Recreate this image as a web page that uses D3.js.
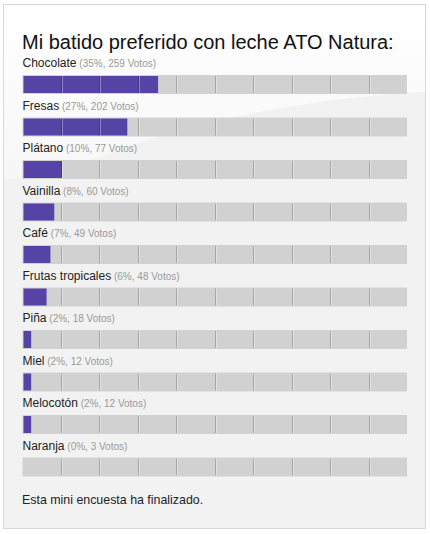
<!DOCTYPE html>
<html>
<head>
<meta charset="utf-8">
<script src="https://cdn.jsdelivr.net/npm/d3@7"></script>
<style>
  body { margin: 0; background: #fff; }
  text { font-family: Arial, "Liberation Sans", sans-serif; }
</style>
</head>
<body>
<div id="poll"></div>
<script>
// datos de la encuesta
const opciones = ['Chocolate', 'Fresas', 'Plátano', 'Vainilla', 'Café', 'Frutas tropicales', 'Piña', 'Miel', 'Melocotón', 'Naranja'];
const porcentajes = [35, 27, 10, 8, 7, 6, 2, 2, 2, 0];
const votos = [259, 202, 77, 60, 49, 48, 18, 12, 12, 3];
const titulo = 'Mi batido preferido con leche ATO Natura:';
const pie = 'Esta mini encuesta ha finalizado.';

const width = 430;
const height = 534;

const svg = d3.select('#poll')
  .append('svg')
  .attr('width', width)
  .attr('height', height);

const defs = svg.append('defs');
const grad = defs.append('linearGradient')
  .attr('id', 'brillo')
  .attr('x1', 0).attr('y1', 0).attr('x2', 0).attr('y2', 1);
grad.append('stop').attr('offset', '0%').attr('stop-color', '#ffffff');
grad.append('stop').attr('offset', '100%').attr('stop-color', '#f7f7f7');

// caja
svg.append('rect')
  .attr('x', 3.5).attr('y', 4.5)
  .attr('width', 422).attr('height', 524)
  .attr('fill', '#f2f2f2')
  .attr('stroke', '#d8d8d8');

// brillo de fondo
svg.append('path')
  .attr('d', 'M4,5 H425 V92 C330,96 200,118 120,150 C80,165 40,175 4,180 Z')
  .attr('fill', 'url(#brillo)');

svg.append('text')
  .attr('x', 22)
  .attr('y', 49)
  .attr('font-size', 20)
  .attr('fill', '#111')
  .text(titulo);

const x = d3.scaleLinear()
  .domain([0, 100])
  .range([22.5, 407]);

const y = d3.scaleBand()
  .domain(opciones)
  .range([75, 75 + 42.5 * opciones.length])
  .paddingInner(0);

const filas = svg.selectAll('g.fila')
  .data(opciones)
  .enter()
  .append('g')
  .attr('class', 'fila')
  .attr('transform', d => `translate(0,${y(d)})`);

const etiqueta = filas.append('text')
  .attr('x', x(0))
  .attr('y', -8)
  .attr('font-size', 12)
  .attr('fill', '#222');
etiqueta.append('tspan').text(d => d);
etiqueta.append('tspan')
  .attr('font-size', 10)
  .attr('fill', '#999')
  .text((d, i) => ` (${porcentajes[i]}%, ${votos[i]} Votos)`);

filas.append('rect')
  .attr('x', x(0))
  .attr('y', 0)
  .attr('width', x(100) - x(0))
  .attr('height', 19)
  .attr('fill', '#d1d1d1');

filas.append('rect')
  .attr('x', x(0) + 1)
  .attr('y', 1)
  .attr('width', (d, i) => Math.max(0, x(porcentajes[i]) - x(0)))
  .attr('height', 17)
  .attr('fill', '#5543a6');

const marcas = d3.range(10, 100, 10);
filas.each(function() {
  const g = d3.select(this);
  g.selectAll('line.oscura')
    .data(marcas)
    .enter()
    .append('line')
    .attr('class', 'oscura')
    .attr('x1', d => Math.round(x(d)) + 0.5)
    .attr('x2', d => Math.round(x(d)) + 0.5)
    .attr('y1', 1).attr('y2', 18)
    .attr('stroke', '#000')
    .attr('stroke-opacity', 0.2);
  g.selectAll('line.clara')
    .data(marcas)
    .enter()
    .append('line')
    .attr('class', 'clara')
    .attr('x1', d => Math.round(x(d)) + 1.5)
    .attr('x2', d => Math.round(x(d)) + 1.5)
    .attr('y1', 1).attr('y2', 18)
    .attr('stroke', '#fff')
    .attr('stroke-opacity', 0.35);
});

svg.append('text')
  .attr('x', 22)
  .attr('y', 504)
  .attr('font-size', 12.4)
  .attr('fill', '#222')
  .text(pie);
</script>
</body>
</html>
